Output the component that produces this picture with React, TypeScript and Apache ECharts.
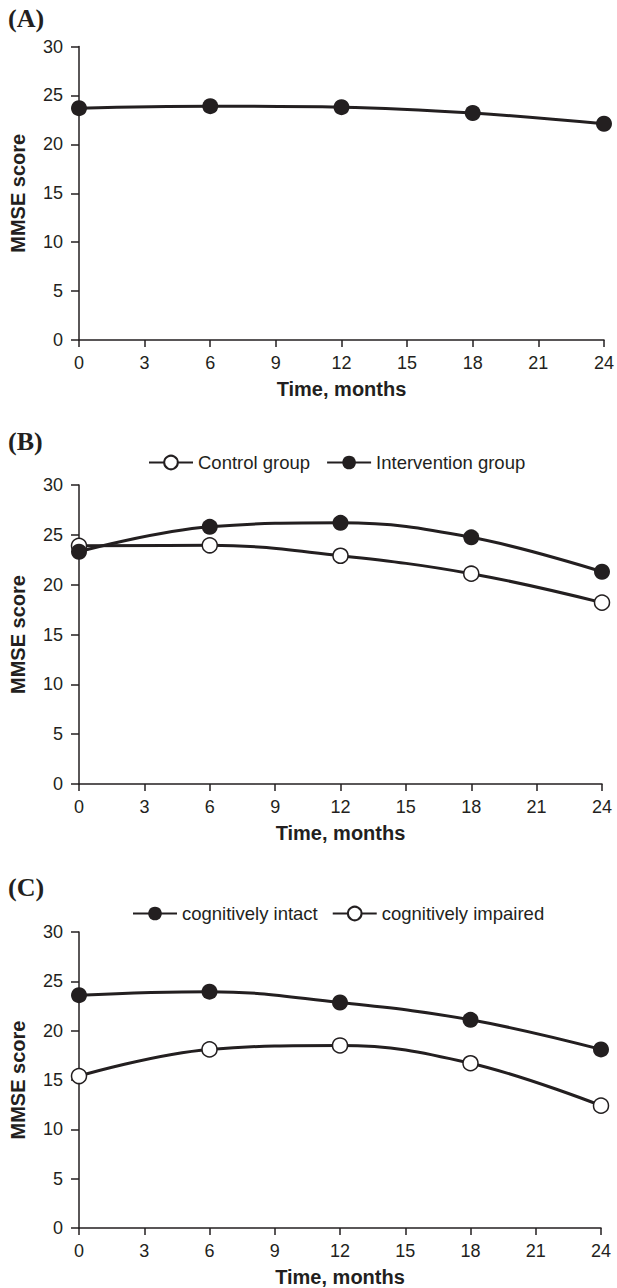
import React, { useEffect, useRef } from "react";
import * as echarts from "echarts";

const months = [0, 6, 12, 18, 24];
const panelAScores = [23.7, 23.9, 23.8, 23.2, 22.1];
const controlGroup = [23.9, 23.95, 22.9, 21.1, 18.2];
const interventionGroup = [23.3, 25.8, 26.2, 24.75, 21.3];
const cognitivelyIntact = [23.6, 23.95, 22.85, 21.1, 18.1];
const cognitivelyImpaired = [15.4, 18.1, 18.5, 16.7, 12.4];
const panelTitles = ["(A)", "(B)", "(C)"];
const legendB = ["Control group", "Intervention group"];
const legendC = ["cognitively intact", "cognitively impaired"];

const INK = "#231f20";
const SANS = "Liberation Sans, Arial, Helvetica, sans-serif";
const SERIF = "Liberation Serif, Times New Roman, serif";

const pairs = (vals: number[]) => months.map((m, i) => [m, vals[i]]);

function xAxisFor(gridIndex: number) {
  return {
    type: "value",
    gridIndex,
    min: 0,
    max: 24,
    interval: 3,
    name: "Time, months",
    nameLocation: "middle",
    nameGap: 39,
    nameTextStyle: { fontFamily: SANS, fontWeight: "bold", fontSize: 20, color: INK },
    axisLine: { show: true, onZero: false, lineStyle: { color: INK, width: 1.5 } },
    axisTick: { show: true, length: 7, lineStyle: { color: INK, width: 1.5 } },
    axisLabel: { fontFamily: SANS, fontSize: 18, color: INK, margin: 14 },
    splitLine: { show: false },
  };
}

function yAxisFor(gridIndex: number) {
  return {
    type: "value",
    gridIndex,
    min: 0,
    max: 30,
    interval: 5,
    name: "MMSE score",
    nameLocation: "middle",
    nameGap: 51,
    nameTextStyle: { fontFamily: SANS, fontWeight: "bold", fontSize: 20, color: INK },
    axisLine: { show: true, onZero: false, lineStyle: { color: INK, width: 1.5 } },
    axisTick: { show: true, length: 8, lineStyle: { color: INK, width: 1.5 } },
    axisLabel: { fontFamily: SANS, fontSize: 18, color: INK, margin: 16 },
    splitLine: { show: false },
  };
}

function lineSeries(name: string, vals: number[], idx: number, filled: boolean) {
  return {
    type: "line",
    name,
    xAxisIndex: idx,
    yAxisIndex: idx,
    data: pairs(vals),
    smooth: 0.4,
    symbol: "circle",
    symbolSize: filled ? 16 : 15,
    lineStyle: { color: INK, width: 3 },
    itemStyle: filled
      ? { color: INK, borderColor: INK, borderWidth: 0 }
      : { color: "#ffffff", borderColor: INK, borderWidth: 1.5 },
    emphasis: { disabled: true },
  };
}

export default function App() {
  const ref = useRef<HTMLDivElement>(null);

  useEffect(() => {
    document.body.style.margin = "0";
    if (!ref.current) return;
    const chart = echarts.init(ref.current, null, { renderer: "svg" });
    const legendText = { fontFamily: SANS, fontSize: 18.5, color: INK };
    chart.setOption({
      animation: false,
      backgroundColor: "#ffffff",
      title: [
        { text: panelTitles[0], left: 8, top: 5 },
        { text: panelTitles[1], left: 8, top: 428 },
        { text: panelTitles[2], left: 8, top: 874 },
      ].map((t) => ({
        ...t,
        padding: 0,
        textStyle: { fontFamily: SERIF, fontWeight: "bold", fontSize: 26, color: INK },
      })),
      legend: [
        {
          data: legendB,
          left: 148,
          top: 453,
          itemWidth: 44,
          itemHeight: 17,
          itemGap: 16,
          padding: 0,
          textStyle: legendText,
          selectedMode: false,
        },
        {
          data: legendC,
          left: 132,
          top: 904,
          itemWidth: 44,
          itemHeight: 17,
          itemGap: 14,
          padding: 0,
          textStyle: legendText,
          selectedMode: false,
        },
      ],
      grid: [
        { left: 79, top: 46.5, width: 526, height: 293.5 },
        { left: 79, top: 485, width: 523, height: 299 },
        { left: 79, top: 932, width: 522, height: 298 },
      ],
      xAxis: [xAxisFor(0), xAxisFor(1), xAxisFor(2)],
      yAxis: [yAxisFor(0), yAxisFor(1), yAxisFor(2)],
      series: [
        lineSeries("MMSE", panelAScores, 0, true),
        lineSeries(legendB[0], controlGroup, 1, false),
        lineSeries(legendB[1], interventionGroup, 1, true),
        lineSeries(legendC[0], cognitivelyIntact, 2, true),
        lineSeries(legendC[1], cognitivelyImpaired, 2, false),
      ],
    });
    return () => chart.dispose();
  }, []);

  return <div ref={ref} style={{ width: 617, height: 1288 }} />;
}
